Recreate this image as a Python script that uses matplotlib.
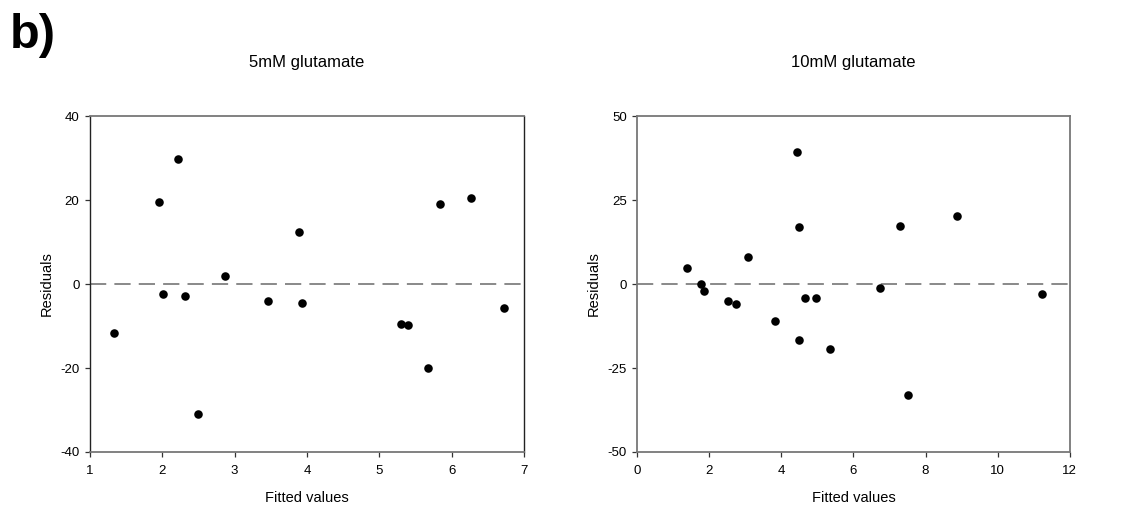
import matplotlib
matplotlib.use("Agg")
import matplotlib.pyplot as plt

plt.rcParams['font.family'] = ['Liberation Sans', 'DejaVu Sans']
plt.rcParams['axes.unicode_minus'] = False

# 5mM glutamate
fitted_5 = [1.33, 1.95, 2.22, 2.01, 2.32, 2.50, 2.87, 3.46, 3.89, 3.93,
            5.30, 5.40, 5.67, 5.84, 6.27, 6.72]
resid_5 = [-11.7, 19.6, 29.7, -2.3, -2.9, -31.0, 1.8, -4.0, 12.3, -4.6,
           -9.5, -9.8, -20.1, 19.0, 20.4, -5.6]

# 10mM glutamate
fitted_10 = [1.37, 1.76, 1.86, 2.52, 2.74, 3.06, 3.81, 4.42, 4.48, 4.50,
             4.65, 4.96, 5.36, 6.74, 7.30, 7.50, 8.86, 11.24]
resid_10 = [4.9, -0.1, -2.2, -5.1, -5.9, 8.1, -10.9, 39.3, -16.6, 17.1,
            -4.1, -4.3, -19.3, -1.1, 17.4, -33.0, 20.2, -3.0]

panels = [
    dict(title="5mM glutamate", x=fitted_5, y=resid_5, xlim=(1, 7), ylim=(-40, 40),
         xticks=[1, 2, 3, 4, 5, 6, 7], yticks=[-40, -20, 0, 20, 40]),
    dict(title="10mM glutamate", x=fitted_10, y=resid_10, xlim=(0, 12), ylim=(-50, 50),
         xticks=[0, 2, 4, 6, 8, 10, 12], yticks=[-50, -25, 0, 25, 50]),
]

fig = plt.figure(figsize=(11.23, 5.09), dpi=100)
positions = [[0.0801, 0.112, 0.3865, 0.660], [0.5675, 0.112, 0.3850, 0.660]]

for i, (p, pos) in enumerate(zip(panels, positions)):
    ax = fig.add_axes(pos)
    ax.axhline(0, color='#808080', lw=1.3, dashes=(9, 4.5), zorder=1)
    ax.scatter(p['x'], p['y'], s=38, color='black', zorder=3, linewidths=0)
    ax.set_xlim(*p['xlim'])
    ax.set_ylim(*p['ylim'])
    ax.set_xticks(p['xticks'])
    ax.set_yticks(p['yticks'])
    ax.tick_params(direction='out', length=3.5, width=0.9, labelsize=9.5,
                   colors='#333333', labelcolor='black')
    ax.tick_params(axis='x', pad=6)
    ax.tick_params(axis='y', pad=4)
    for side, sp in ax.spines.items():
        sp.set_linewidth(1.3)
        sp.set_color('#777777')
    if i == 0:
        ax.spines['left'].set_color('#222222')
        ax.spines['right'].set_color('#222222')
        ax.spines['left'].set_linewidth(1.0)
        ax.spines['right'].set_linewidth(1.0)
    ax.set_xlabel("Fitted values", fontsize=10.5, labelpad=10)
    ax.set_ylabel("Residuals", fontsize=10.5, labelpad=5)
    ax.set_title(p['title'], fontsize=12, pad=35)

fig.text(0.009, 0.975, "b)", fontsize=35, fontweight='bold', va='top', ha='left')

fig.savefig("out.png", dpi=100)
